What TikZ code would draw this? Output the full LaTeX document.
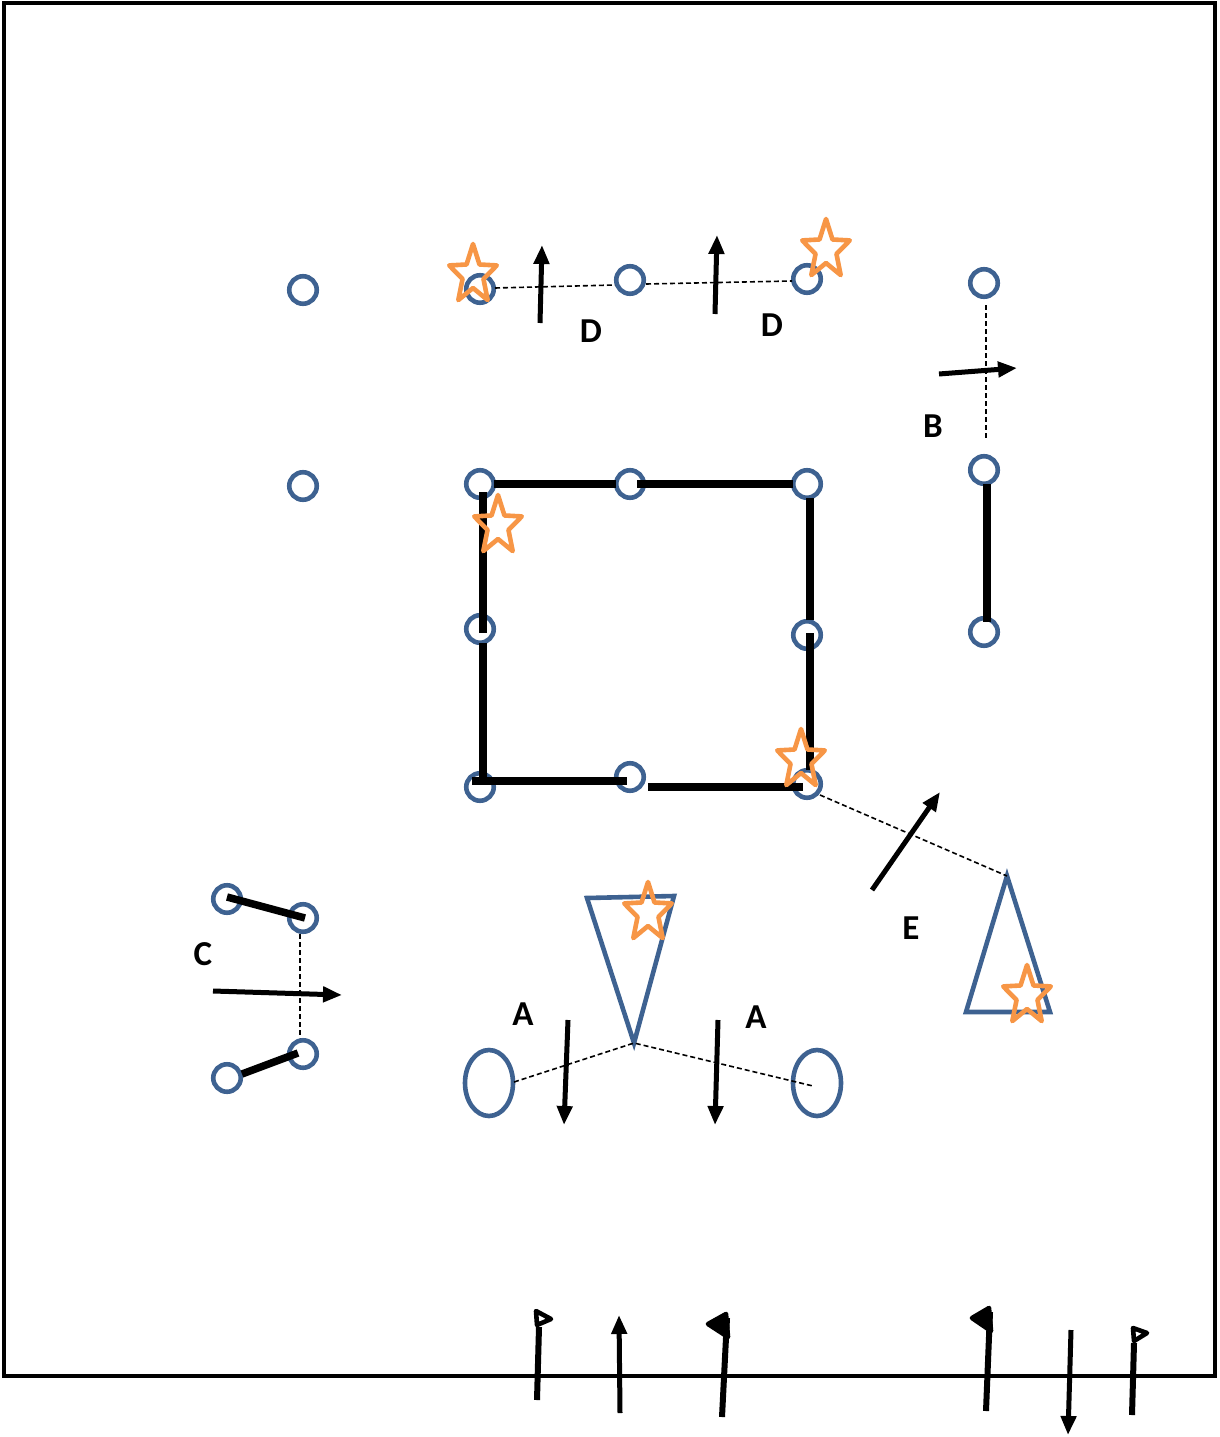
\documentclass[tikz,border=0pt]{standalone}
\usepackage{fontspec}
\setmainfont{Carlito}
\usetikzlibrary{arrows.meta,calc,shapes.geometric}
\definecolor{cblue}{RGB}{62,98,145}
\definecolor{corange}{RGB}{247,150,70}
\newcommand\ostar[3]{%
  \coordinate (#1) at (#2,#3);
  \draw[starsty,shift={(#2,#3)}] (-90:25 and 31) -- (-54:11 and 13) -- (-18:25 and 31) -- (18:11 and 13) -- (54:25 and 31) -- (90:11 and 13) -- (126:25 and 31) -- (162:11 and 13) -- (198:25 and 31) -- (234:11 and 13) -- cycle;}
\begin{document}
\begin{tikzpicture}[x=1pt,y=-1pt,
  cone/.style={circle,draw=cblue,line width=4.6pt,minimum size=27.5pt,inner sep=0pt},
  ring/.style={ellipse,draw=cblue,line width=4.6pt,minimum width=48pt,minimum height=66pt,inner sep=0pt},
  wall/.style={line width=7.5pt},
  guide/.style={line width=1.6pt,dash pattern=on 5pt off 3pt},
  run/.style={line width=5pt,-{Triangle[length=19pt,width=15pt]}},
  starsty/.style={draw=corange,line width=4.6pt,line join=round},
  tri/.style={draw=cblue,line width=4.6pt,line join=miter},
  lab/.style={font=\bfseries\fontsize{35}{35}\selectfont,inner sep=0pt},
  pole/.style={line width=6pt},
  flag/.style={line width=4.6pt,line join=round}
]
\useasboundingbox (0,0) rectangle (1219,1437);
\draw[line width=4.6pt] (4,3) rectangle (1215,1376);

% dashed guide ends
\coordinate (dBa) at (986,305);
\coordinate (dBb) at (986,440);
\coordinate (dCa) at (300,934);
\coordinate (dCb) at (300,1038);
\coordinate (eR) at (813,1086);

% cones
\node[cone] (c1) at (303,290) {};
\node[cone] (c2) at (303,486) {};
\node[cone] (d1) at (480,289) {};
\node[cone] (d2) at (630,280) {};
\node[cone] (d3) at (807,279) {};
\node[cone] (b1) at (984,283) {};
\node[cone] (b2) at (984,470) {};
\node[cone] (b3) at (984,632) {};
\node[cone] (s1) at (480,484) {};
\node[cone] (s2) at (630,484) {};
\node[cone] (s3) at (807,484) {};
\node[cone] (s4) at (480,629) {};
\node[cone] (s5) at (807,635) {};
\node[cone] (s6) at (480,787) {};
\node[cone] (s7) at (630,777) {};
\node[cone] (s8) at (807,784) {};
\node[cone] (g1) at (227,899) {};
\node[cone] (g2) at (303,918) {};
\node[cone] (g3) at (303,1054) {};
\node[cone] (g4) at (227,1078) {};
\node[ring] (eL) at (489,1083) {};
\node[ring] (eRn) at (817,1083) {};

% triangles
\coordinate (t1a) at (587,898);
\coordinate (t1b) at (674,896);
\coordinate (t1c) at (634,1043);
\draw[tri] (t1a) -- (t1b) -- (t1c) -- cycle;
\coordinate (t2a) at (1007,876);
\coordinate (t2b) at (1050,1012);
\coordinate (t2c) at (966,1012);
\draw[tri] (t2a) -- (t2b) -- (t2c) -- cycle;

% dashed lines
\draw[guide] (495,288) -- (615,285);
\draw[guide] (646,284) -- (792,281);
\draw[guide] (dBa) -- (dBb);
\draw[guide] (dCa) -- (dCb);
\draw[guide] (820,795) -- (t2a);
\draw[guide] (514,1082) -- (t1c) -- (eR);

% walls
\draw[wall] (494,484) -- (616,484);
\draw[wall] (637,484) -- (793,484);
\draw[wall] (483,492) -- (483,633);
\draw[wall] (483,643) -- (483,783);
\draw[wall] (472,781) -- (627,781);
\draw[wall] (648,787) -- (803,787);
\draw[wall] (810,498) -- (810,620);
\draw[wall] (810,633) -- (810,770);
\draw[wall] (987,484) -- (987,622);
\draw[wall] (227,897) -- (305,918);
\draw[wall] (298,1053) -- (242,1074);

% runs
\coordinate (rD1a) at (540,323); \coordinate (rD1b) at (542,245);
\coordinate (rD2a) at (715,314); \coordinate (rD2b) at (717,235);
\coordinate (rBa) at (939,374);  \coordinate (rBb) at (1017,368);
\coordinate (rCa) at (213,991);  \coordinate (rCb) at (342,995);
\coordinate (rEa) at (872,890);  \coordinate (rEb) at (940,792);
\coordinate (rA1a) at (568,1020); \coordinate (rA1b) at (564,1125);
\coordinate (rA2a) at (718,1020); \coordinate (rA2b) at (715,1125);
\coordinate (rU1a) at (620,1413); \coordinate (rU1b) at (619,1315);
\coordinate (rU2a) at (1071,1330); \coordinate (rU2b) at (1068,1435);
\draw[run] (rD1a) -- (rD1b);
\draw[run] (rD2a) -- (rD2b);
\draw[run] (rBa) -- (rBb);
\draw[run] (rCa) -- (rCb);
\draw[run] (rEa) -- (rEb);
\draw[run] (rA1a) -- (rA1b);
\draw[run] (rA2a) -- (rA2b);
\draw[run] (rU1a) -- (rU1b);
\draw[run] (rU2a) -- (rU2b);

% flags
\draw[pole] (537,1400) -- (539,1327);
\draw[flag] (536,1311) -- (551,1319) -- (537,1325) -- cycle;
\draw[pole] (722,1417) -- (727,1318);
\filldraw[flag] (708,1324) -- (726,1314) -- (728,1337) -- cycle;
\draw[pole] (986,1411) -- (990,1312);
\filldraw[flag] (972,1318) -- (989,1308) -- (991,1331) -- cycle;
\draw[pole] (1132,1415) -- (1134,1343);
\draw[flag] (1133,1328) -- (1147,1333) -- (1134,1341) -- cycle;

% stars
\ostar{st1}{473}{275}
\ostar{st2}{826}{250}
\ostar{st3}{498}{526}
\ostar{st4}{801}{760}
\ostar{st5}{648}{913}
\ostar{st6}{1027}{996}

% labels
\node[lab] (lD1) at (591,331) {D};
\node[lab] (lD2) at (772,325) {D};
\node[lab] (lB) at (933,426) {B};
\node[lab] (lC) at (203,954) {C};
\node[lab] (lE) at (911,928) {E};
\node[lab] (lA1) at (523,1014) {A};
\node[lab] (lA2) at (756,1017) {A};
\end{tikzpicture}
\end{document}
